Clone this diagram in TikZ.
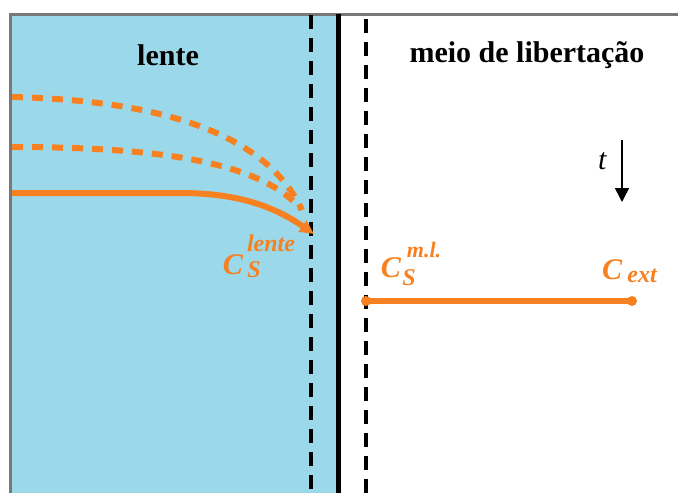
\documentclass[tikz,border=0pt]{standalone}
\usepackage{fontspec}
\setmainfont{Liberation Serif}
\usetikzlibrary{arrows.meta,positioning}
\definecolor{lensblue}{RGB}{155,217,234}
\definecolor{profile}{RGB}{247,128,32}
\definecolor{framegray}{RGB}{120,120,120}
\newcommand{\fsz}[1]{\fontsize{#1}{#1}\selectfont}

\begin{document}
\begin{tikzpicture}[x=1pt, y=-1pt, >=Stealth]
    \useasboundingbox (0,0) rectangle (678,493);
    % lens and frame
    \fill[lensblue] (10,14) rectangle (337,493);
    \draw[framegray, line width=3pt] (10,493) -- (10,14) -- (678,14);
    \draw[line width=5pt] (338,14) -- (338,493);
    \draw[line width=3.4pt, dash pattern=on 14pt off 9pt] (311,15) -- (311,493);
    \draw[line width=3.4pt, dash pattern=on 14pt off 9pt] (366,19) -- (366,493);
    % headings
    \node[font=\bfseries\fsz{30}] (lente) at (168,55) {lente};
    \node[font=\bfseries\fsz{30}] (meio) at (527,55) {meio de libertação};
    % concentration profiles in the lens
    \draw[profile, line width=6pt, dash pattern=on 11pt off 9pt]
        (12,97) .. controls (140,100) and (262,125) .. (302,210);
    \draw[profile, line width=6pt, dash pattern=on 11pt off 9pt]
        (12,147) .. controls (150,147) and (258,160) .. (300,208);
    \draw[profile, line width=6pt, -{Triangle[length=14pt,width=13pt]}]
        (12,193) -- (180,193) .. controls (235,193) and (272,205) .. (314,234);
    % interface labels
    \node[profile, font=\bfseries\itshape\fsz{30}] (cs) at (233,265) {C};
    \node[profile, font=\bfseries\itshape\fsz{24}] (cssub) at (254,270) {S};
    \node[profile, font=\bfseries\itshape\fsz{24}] (cssup) at (271,243) {lente};
    \node[profile, font=\bfseries\itshape\fsz{30}] (cml) at (391,268) {C};
    \node[profile, font=\bfseries\itshape\fsz{24}] (cmlsub) at (409,278) {S};
    \node[profile, font=\bfseries\itshape\fsz{22}] (cmlsup) at (424,250) {m.l.};
    \node[profile, font=\bfseries\itshape\fsz{30}] (cext) at (612,270) {C};
    \node[profile, font=\bfseries\itshape\fsz{24}] (cextsub) at (642,276) {ext};
    % profile in the release medium
    \coordinate (mlstart) at (366,301);
    \coordinate (mlend) at (632,301);
    \draw[profile, line width=6pt] (mlstart) -- (mlend);
    \fill[profile] (mlstart) circle (5pt) (mlend) circle (5pt);
    % time arrow
    \coordinate (ttop) at (622,140);
    \coordinate (tbot) at (622,202);
    \draw[-{Triangle[length=14pt,width=14pt]}, line width=1.5pt] (ttop) -- (tbot);
    \node[font=\itshape\fsz{30}, left=12pt of ttop, yshift=-21pt] (t) {t};
\end{tikzpicture}
\end{document}
